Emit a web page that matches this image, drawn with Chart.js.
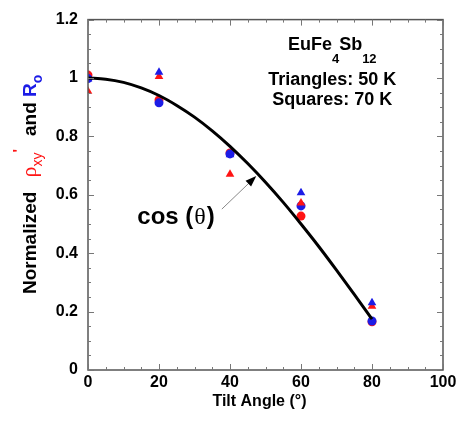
<!DOCTYPE html>
<html>
<head>
<meta charset="utf-8">
<script src="https://cdn.jsdelivr.net/npm/chart.js@4/dist/chart.umd.min.js"></script>
<style>
  html, body { margin: 0; padding: 0; background: #fff; }
  #wrap { width: 466px; height: 422px; }
</style>
</head>
<body>
<div id="wrap"><canvas id="chart" width="466" height="422"></canvas></div>
<script>
// ===== Dados =====
const angles = [0, 20, 40, 60, 80];

// Triângulos: 50 K
const rhoTri = [0.955, 1.005, 0.67, 0.572, 0.218];
const roTri = [0.997, 1.02, 0.737, 0.607, 0.23];
// Quadrados (desenhados como círculos): 70 K
const rhoSq = [1.01, 0.925, 0.743, 0.527, 0.165];
const roSq = [0.998, 0.915, 0.74, 0.562, 0.168];

// Curva cos(theta)
const curveAngles = [0, 5, 10, 15, 20, 25, 30, 35, 40, 45, 50, 55, 60, 65, 70, 75, 80];
const curveValues = [1.0, 0.996, 0.985, 0.966, 0.94, 0.906, 0.866, 0.819, 0.766, 0.707, 0.643, 0.574, 0.5, 0.423, 0.342, 0.259, 0.174];

const xTicks = [0, 20, 40, 60, 80, 100];
const yTicks = [0, 0.2, 0.4, 0.6, 0.8, 1, 1.2];

const RED = '#ff1414';
const BLUE = '#1c1ce6';
const FONT = '"Liberation Sans", Arial, Helvetica, sans-serif';
const SYM = '"Liberation Serif", "DejaVu Serif", serif';

const toPoints = (xs, ys) => xs.map((x, i) => ({ x: x, y: ys[i] }));

// ===== Plugin: moldura e ticks internos =====
const framePlugin = {
  id: 'frame',
  afterDraw(chart) {
    const { ctx, chartArea: a, scales } = chart;
    ctx.save();
    ctx.strokeStyle = '#555';
    ctx.lineWidth = 1.5;
    ctx.strokeRect(a.left, a.top, a.right - a.left, a.bottom - a.top);

    ctx.strokeStyle = '#777';
    ctx.lineWidth = 1;
    // ticks do eixo x (a cada 5, maiores a cada 20)
    for (let v = 0; v <= 100; v += 5) {
      const px = Math.round(scales.x.getPixelForValue(v)) + 0.5;
      const len = v % 20 === 0 ? 6 : 3;
      ctx.beginPath();
      ctx.moveTo(px, a.bottom); ctx.lineTo(px, a.bottom - len);
      ctx.moveTo(px, a.top); ctx.lineTo(px, a.top + len);
      ctx.stroke();
    }
    // ticks do eixo y (a cada 0.05, maiores a cada 0.2)
    for (let k = 0; k <= 24; k++) {
      const py = Math.round(scales.y.getPixelForValue(k * 0.05)) + 0.5;
      const len = k % 4 === 0 ? 6 : 3;
      ctx.beginPath();
      ctx.moveTo(a.left, py); ctx.lineTo(a.left + len, py);
      ctx.moveTo(a.right, py); ctx.lineTo(a.right - len, py);
      ctx.stroke();
    }
    ctx.restore();
  }
};

// Desenha uma sequência de trechos de texto com cores/tamanhos diferentes
function drawRich(ctx, parts, x, y) {
  let cx = x;
  parts.forEach(p => {
    ctx.font = p.font;
    ctx.fillStyle = p.color;
    ctx.fillText(p.text, cx, y + (p.dy || 0));
    cx += ctx.measureText(p.text).width + (p.gap || 0);
  });
  return cx - x;
}
function richWidth(ctx, parts) {
  let w = 0;
  parts.forEach(p => { ctx.font = p.font; w += ctx.measureText(p.text).width + (p.gap || 0); });
  return w;
}

// ===== Plugin: textos e anotações =====
const labelsPlugin = {
  id: 'labels',
  afterDraw(chart) {
    const { ctx, scales } = chart;
    const X = v => scales.x.getPixelForValue(v);
    const Y = v => scales.y.getPixelForValue(v);
    ctx.save();
    ctx.textBaseline = 'alphabetic';
    ctx.textAlign = 'left';

    // Título do eixo y (rotacionado)
    const yTitle = [
      { text: 'Normalized', font: 'bold 19px ' + FONT, color: '#000', gap: 14 },
      { text: 'ρ', font: '22px ' + SYM, color: RED },
      { text: 'xy', font: '14px ' + FONT, color: RED, dy: 6 },
      { text: '\'', font: 'bold 15px ' + FONT, color: RED, dy: -13, gap: 13 },
      { text: 'and ', font: 'bold 19px ' + FONT, color: '#000' },
      { text: 'R', font: 'bold 19px ' + FONT, color: BLUE },
      { text: 'o', font: 'bold 14px ' + FONT, color: BLUE, dy: 6 }
    ];
    ctx.save();
    ctx.translate(36, 294);
    ctx.rotate(-Math.PI / 2);
    drawRich(ctx, yTitle, 0, 0);
    ctx.restore();

    // Bloco de texto superior direito
    const cx = X(68.8);
    const formula = [
      { text: 'EuFe', font: 'bold 18px ' + FONT, color: '#000' },
      { text: '4', font: 'bold 13px ' + FONT, color: '#000', dy: 13 },
      { text: 'Sb', font: 'bold 18px ' + FONT, color: '#000' },
      { text: '12', font: 'bold 13px ' + FONT, color: '#000', dy: 13 }
    ];
    drawRich(ctx, formula, cx - richWidth(ctx, formula) / 2, Y(1.095));
    ctx.font = 'bold 18px ' + FONT;
    ctx.fillStyle = '#000';
    ctx.textAlign = 'center';
    ctx.fillText('Triangles: 50 K', cx, Y(0.975));
    ctx.fillText('Squares: 70 K', cx, Y(0.907));

    // Título do eixo x
    ctx.font = 'bold 16px ' + FONT;
    ctx.textBaseline = 'middle';
    ctx.fillText('Tilt Angle (°)', X(48.3), 402);
    ctx.textBaseline = 'alphabetic';
    ctx.textAlign = 'left';

    // Anotação cos(θ)
    const cosText = [
      { text: 'cos (', font: 'bold 24px ' + FONT, color: '#000', gap: 1 },
      { text: 'θ', font: '24px ' + SYM, color: '#000', gap: 1 },
      { text: ')', font: 'bold 24px ' + FONT, color: '#000' }
    ];
    drawRich(ctx, cosText, X(13.9), Y(0.5));

    // Seta
    const x0 = X(37.7), y0 = Y(0.551), x1 = X(47.4), y1 = Y(0.664);
    const ang = Math.atan2(y1 - y0, x1 - x0);
    ctx.strokeStyle = '#888';
    ctx.lineWidth = 1;
    ctx.beginPath();
    ctx.moveTo(x0, y0);
    ctx.lineTo(x1 - 9 * Math.cos(ang), y1 - 9 * Math.sin(ang));
    ctx.stroke();
    ctx.fillStyle = '#000';
    ctx.beginPath();
    ctx.moveTo(x1, y1);
    ctx.lineTo(x1 - 11 * Math.cos(ang) + 4 * Math.sin(ang), y1 - 11 * Math.sin(ang) - 4 * Math.cos(ang));
    ctx.lineTo(x1 - 11 * Math.cos(ang) - 4 * Math.sin(ang), y1 - 11 * Math.sin(ang) + 4 * Math.cos(ang));
    ctx.closePath();
    ctx.fill();
    ctx.restore();
  }
};

const markerSet = (data, color, style, radius) => ({
  type: 'scatter',
  data: data,
  pointStyle: style,
  pointRadius: radius,
  pointBackgroundColor: color,
  pointBorderColor: color,
  pointBorderWidth: 0,
  showLine: false
});

new Chart(document.getElementById('chart'), {
  type: 'scatter',
  data: {
    datasets: [
      {
        type: 'line',
        data: toPoints(curveAngles, curveValues),
        borderColor: '#000',
        borderWidth: 3,
        pointRadius: 0,
        fill: false,
        cubicInterpolationMode: 'monotone'
      },
      markerSet(toPoints(angles, roTri), BLUE, 'triangle', 5),
      markerSet(toPoints(angles, rhoTri), RED, 'triangle', 5),
      markerSet(toPoints(angles, roSq), BLUE, 'circle', 4.5),
      markerSet(toPoints(angles, rhoSq), RED, 'circle', 4.5)
    ]
  },
  options: {
    responsive: false,
    animation: false,
    layout: { padding: { left: 0, right: 23, top: 15, bottom: 10 } },
    plugins: {
      legend: { display: false },
      tooltip: { enabled: false }
    },
    scales: {
      x: {
        type: 'linear',
        min: 0,
        max: 100,
        afterBuildTicks: s => { s.ticks = xTicks.map(v => ({ value: v })); },
        afterFit: s => { s.height = 42; },
        grid: { display: false, drawTicks: false },
        border: { display: false },
        ticks: { color: '#000', padding: 3, font: { family: FONT, size: 16, weight: 'bold' } }
      },
      y: {
        type: 'linear',
        min: 0,
        max: 1.2,
        afterBuildTicks: s => { s.ticks = yTicks.map(v => ({ value: v })); },
        afterFit: s => { s.width = 88; },
        grid: { display: false, drawTicks: false },
        border: { display: false },
        ticks: {
          color: '#000',
          padding: 10,
          font: { family: FONT, size: 16, weight: 'bold' },
          callback: v => String(Math.round(v * 10) / 10)
        }
      }
    }
  },
  plugins: [framePlugin, labelsPlugin]
});
</script>
</body>
</html>
